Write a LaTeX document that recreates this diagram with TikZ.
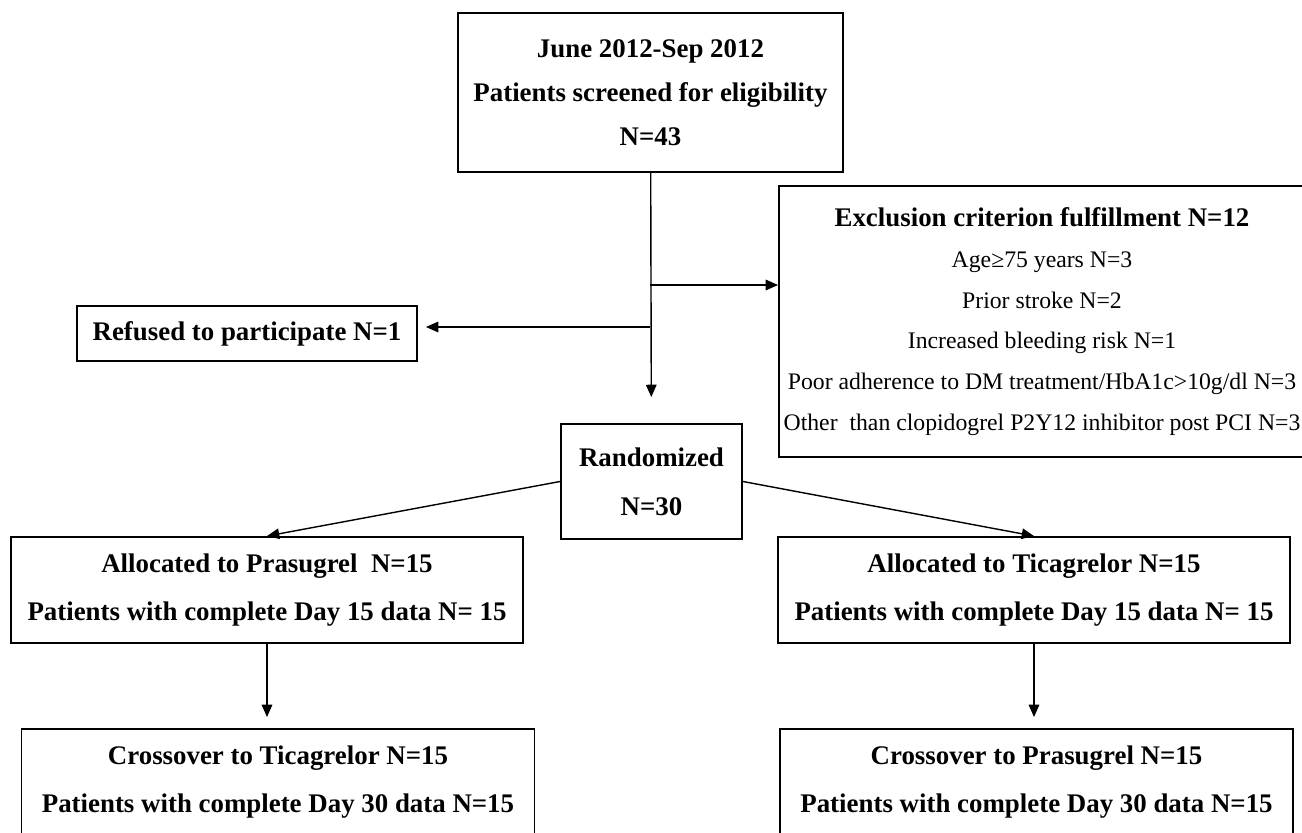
\documentclass[tikz,border=0pt]{standalone}
\usepackage{fontspec}
\setmainfont{Liberation Serif}
\usepackage{tikz}
\usetikzlibrary{arrows.meta, positioning, calc}

\begin{document}
\begin{tikzpicture}[x=0.02cm, y=-0.02cm,
                box/.style={draw, line width=1.1pt, align=center, inner sep=0pt, font=\bfseries\fontsize{15.3}{25}\selectfont},
                twoline/.style={box, minimum width=512*0.02cm, minimum height=106*0.02cm, font=\bfseries\fontsize{15.3}{27.5}\selectfont},
                arrow/.style={-{Triangle[length=7pt, width=6pt]}, line width=0.8pt}]

                \useasboundingbox (0,0) rectangle (1302,832);

                % Entities
                \node[box, minimum width=385*0.02cm, minimum height=159*0.02cm] (screen) at (650.5,92.5)
                    {June 2012-Sep 2012\\Patients screened for eligibility\\N=43};
                \node[box, minimum width=526*0.02cm, minimum height=271*0.02cm, font=\fontsize{13.5}{23.2}\selectfont] (excl) at (1042,321.5)
                    {{\bfseries\fontsize{15.3}{23.2}\selectfont Exclusion criterion fulfillment N=12}\\
                     Age≥75 years N=3\\
                     Prior stroke N=2\\
                     Increased bleeding risk N=1\\
                     Poor adherence to DM treatment/HbA1c>10g/dl N=3\\
                     Other~ than clopidogrel P2Y12 inhibitor post PCI N=3};
                \node[box, minimum width=340*0.02cm, minimum height=55*0.02cm] (refused) at (247,333.5) {Refused to participate N=1};
                \node[box, minimum width=181*0.02cm, minimum height=115*0.02cm, font=\bfseries\fontsize{15.3}{28}\selectfont] (rand) at (651.5,481.5)
                    {Randomized\\N=30};
                \node[twoline] (allocP) at (267,590) {Allocated to Prasugrel~ N=15\\Patients with complete Day 15 data N= 15};
                \node[twoline] (allocT) at (1034,590) {Allocated to Ticagrelor N=15\\Patients with complete Day 15 data N= 15};
                \node[twoline, minimum width=513*0.02cm] (crossT) at (278,782) {Crossover to Ticagrelor N=15\\Patients with complete Day 30 data N=15};
                \node[twoline, minimum width=513*0.02cm] (crossP) at (1036.5,782) {Crossover to Prasugrel N=15\\Patients with complete Day 30 data N=15};

                % Branch points on the trunk
                \coordinate (toExcl) at (650,285);
                \coordinate (toRefused) at (650,327);

                % Arrows
                \draw[arrow, shorten >=26*0.02cm] (screen) -- (rand);
                \draw[arrow] (toExcl) -- (toExcl -| excl.west);
                \draw[arrow, shorten >=8*0.02cm] (toRefused) -- (toRefused -| refused.east);
                \draw[arrow] (rand.west) -- (allocP.north);
                \draw[arrow] (rand.east) -- (allocT.north);
                \draw[arrow, shorten >=11*0.02cm] (allocP.south) -- (allocP.south |- crossT.north);
                \draw[arrow, shorten >=11*0.02cm] (allocT.south) -- (allocT.south |- crossP.north);
            \end{tikzpicture}
\end{document}
